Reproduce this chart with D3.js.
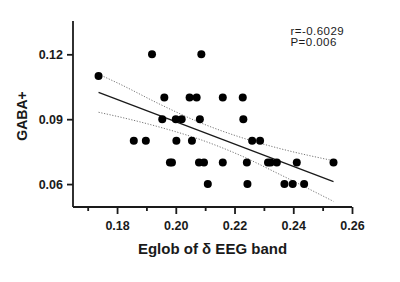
<!DOCTYPE html>
<html>
<head>
<meta charset="utf-8">
<script src="https://cdn.jsdelivr.net/npm/d3@7"></script>
<style>
  body { margin: 0; background: #fff; }
  svg text { font-family: 'Liberation Sans', Arial, sans-serif; }
</style>
</head>
<body>
<svg id="chart" width="400" height="282"></svg>
<script>
// scatter points (Eglob of delta band vs GABA+)
const eglob = [0.1737, 0.1919, 0.1961, 0.1954, 0.2000, 0.2020, 0.1857, 0.1898, 0.2002, 0.2055,
  0.1980, 0.1987, 0.2047, 0.2071, 0.2082, 0.2087, 0.2079, 0.2096, 0.2109, 0.2160,
  0.2160, 0.2228, 0.2230, 0.2260, 0.2287, 0.2242, 0.2244, 0.2314, 0.2323, 0.2344,
  0.2412, 0.2537, 0.2370, 0.2398, 0.2437]
const gaba = [0.11, 0.12, 0.10, 0.09, 0.09, 0.09, 0.08, 0.08, 0.08, 0.08,
  0.07, 0.07, 0.10, 0.10, 0.09, 0.12, 0.07, 0.07, 0.06, 0.10,
  0.07, 0.10, 0.09, 0.08, 0.08, 0.07, 0.06, 0.07, 0.07, 0.07,
  0.07, 0.07, 0.06, 0.06, 0.06]

// fitted line and 95% band
const fitX = [0.1737, 0.2537]
const fitY = [0.1024, 0.0611]
const bandX = [0.1737, 0.1810, 0.1946, 0.2083, 0.2219, 0.2355, 0.2537]
const bandUpper = [0.1108, 0.1062, 0.0969, 0.0884, 0.0817, 0.0764, 0.0708]
const bandLower = [0.0932, 0.0910, 0.0863, 0.0806, 0.0733, 0.0644, 0.0520]

const xMajor = [0.18, 0.20, 0.22, 0.24, 0.26]
const xMinor = [0.17, 0.19, 0.21, 0.23, 0.25]
const yTicks = [0.06, 0.09, 0.12]
const stats = ['r=-0.6029', 'P=0.006']

const svg = d3.select('#chart')
const ink = '#1a1a1a'

let x = d3.scaleLinear().domain([0.165, 0.26]).range([73, 352])
let y = d3.scaleLinear().domain([0.0494, 0.1354]).range([207, 21])

// x axis: major + minor ticks
const gx = svg.append('g').attr('transform', 'translate(0,207)')
gx.call(d3.axisBottom(x).tickValues(xMajor).tickSize(7).tickPadding(7).tickFormat(d3.format('.2f')))
gx.append('g').call(d3.axisBottom(x).tickValues(xMinor).tickSize(4).tickFormat(''))
  .select('.domain').remove()
gx.selectAll('.domain').attr('d', 'M73,0H352')

const gy = svg.append('g').attr('transform', 'translate(73,0)')
gy.call(d3.axisLeft(y).tickValues(yTicks).tickSize(6).tickPadding(4).tickFormat(d3.format('.2f')))
gy.selectAll('.domain').attr('d', 'M0,21V207')

svg.selectAll('.domain, .tick line')
  .attr('stroke', ink)
  .attr('stroke-width', 1.8)
svg.selectAll('.tick text')
  .attr('fill', ink)
  .style('font-size', '12.5px')
  .style('font-weight', 'bold')

// band lines
const bandLine = vals => d3.line()
  .x((d, i) => x(bandX[i]))
  .y(d => y(d))
  .curve(d3.curveMonotoneX)(vals)

for (let vals of [bandUpper, bandLower]) {
  svg.append('path')
    .attr('d', bandLine(vals))
    .attr('fill', 'none')
    .attr('stroke', '#777')
    .attr('stroke-width', 1)
    .attr('stroke-dasharray', '1.2,1.6')
}

svg.append('path')
  .datum(fitX.map((d, i) => [d, fitY[i]]))
  .attr('fill', 'none')
  .attr('stroke', ink)
  .attr('stroke-width', 1.3)
  .attr('d', d3.line().x(d => x(d[0])).y(d => y(d[1])))

svg.append('g')
  .selectAll('circle')
  .data(eglob.map((d, i) => ({ x: d, y: gaba[i] })))
  .join('circle')
  .attr('cx', d => x(d.x))
  .attr('cy', d => y(d.y))
  .attr('r', 4)
  .attr('fill', '#000')

// titles
svg.append('text')
  .attr('x', 212.5)
  .attr('y', 254)
  .attr('text-anchor', 'middle')
  .attr('fill', ink)
  .style('font-size', '15px')
  .style('font-weight', 'bold')
  .text('Eglob of δ EEG band')

svg.append('text')
  .attr('transform', 'translate(26.5,116) rotate(-90)')
  .attr('text-anchor', 'middle')
  .attr('fill', ink)
  .style('font-size', '14px')
  .style('font-weight', 'bold')
  .text('GABA+')

svg.append('g')
  .selectAll('text')
  .data(stats)
  .join('text')
  .attr('x', 290.5)
  .attr('y', (d, i) => 34.5 + i * 11.5)
  .attr('fill', ink)
  .style('font-size', '11.5px')
  .style('letter-spacing', '0.45px')
  .text(d => d)
</script>
</body>
</html>
